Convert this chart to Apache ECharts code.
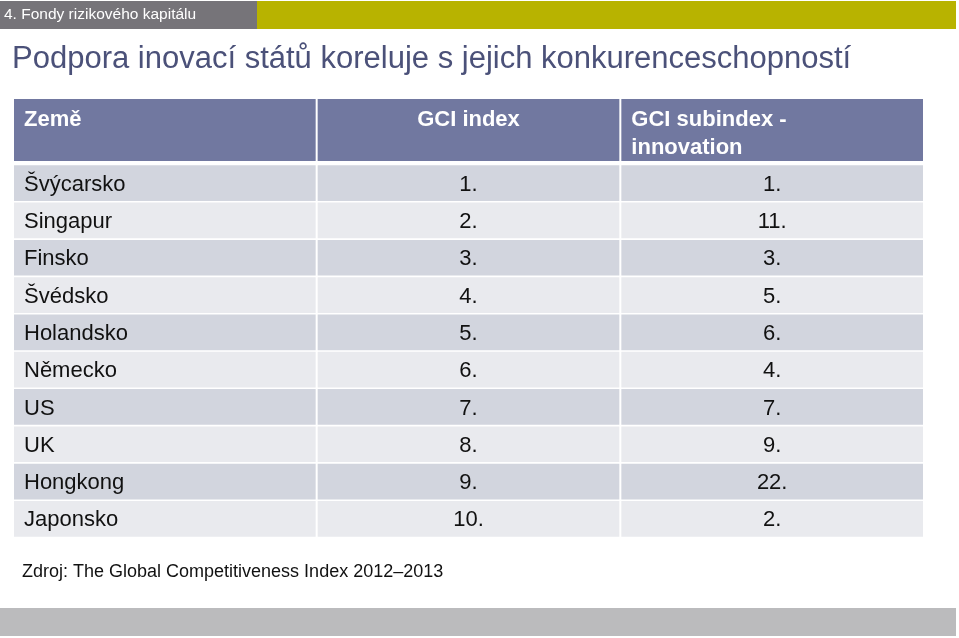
<!DOCTYPE html>
<html><head><meta charset="utf-8">
<script src="https://cdn.jsdelivr.net/npm/echarts@6/dist/echarts.min.js"></script>
<style>html,body{margin:0;padding:0;background:#fff}#c{width:959px;height:638px}</style>
</head><body><div id="c"></div>
<script>
const sectionLabel = '4. Fondy rizikového kapitálu';
const titleText = 'Podpora inovací států koreluje s jejich konkurenceschopností';
const columns = ['Země', 'GCI index', 'GCI subindex -\ninnovation'];
const countries = ['Švýcarsko','Singapur','Finsko','Švédsko','Holandsko','Německo','US','UK','Hongkong','Japonsko'];
const gciIndex = [1,2,3,4,5,6,7,8,9,10];
const gciInnovation = [1,11,3,5,6,4,7,9,22,2];
const sourceText = 'Zdroj: The Global Competitiveness Index 2012–2013';

const FONT = '"Liberation Sans", Arial, Helvetica, sans-serif';
const colIdx = [0, 1, 2];

const headerCells = columns.map((t, i) => ({ value: [i, 0], label: t }));
const bodyCells = [];
countries.forEach((c, r) => {
  bodyCells.push({ value: [0, r], label: c });
  bodyCells.push({ value: [1, r], label: gciIndex[r] + '.' });
  bodyCells.push({ value: [2, r], label: gciInnovation[r] + '.' });
});

function headerRender(params, api) {
  const col = api.value(0), row = api.value(1);
  const c = api.coord([col, row]);
  const s = api.size([1, 1]);
  const x = c[0] - s[0] / 2, y = c[1] - s[1] / 2;
  const cell = headerCells[params.dataIndex];
  let tx, align;
  if (col === 1) { tx = c[0]; align = 'center'; } else { tx = x + 11; align = 'left'; }
  return {
    type: 'group',
    children: [
      { type: 'rect', shape: { x: x + 1, y: y + 1, width: s[0] - 2, height: s[1] - 2 }, style: { fill: '#7178a0' } },
      { type: 'text', style: { text: cell.label, x: tx, y: y + 7.5, align: align, verticalAlign: 'top',
        fill: '#ffffff', fontFamily: FONT, fontWeight: 'bold', fontSize: 22, lineHeight: 28 } }
    ]
  };
}

function bodyRender(params, api) {
  const col = api.value(0), row = api.value(1);
  const c = api.coord([col, row]);
  const s = api.size([1, 1]);
  const x = c[0] - s[0] / 2, y = c[1] - s[1] / 2;
  const cell = bodyCells[params.dataIndex];
  const fill = row % 2 === 0 ? '#d2d5de' : '#e9eaee';
  let tx, align;
  if (col === 0) { tx = x + 11; align = 'left'; } else { tx = c[0]; align = 'center'; }
  return {
    type: 'group',
    children: [
      { type: 'rect', shape: { x: x + 1, y: y + 0.8, width: s[0] - 2, height: s[1] - 1.6 }, style: { fill: fill } },
      { type: 'text', style: { text: cell.label, x: tx, y: c[1] + 1.5, align: align, verticalAlign: 'middle',
        fill: '#111111', fontFamily: FONT, fontSize: 22 } }
    ]
  };
}

const chart = echarts.init(document.getElementById('c'), null, { renderer: 'canvas' });
chart.setOption({
  animation: false,
  backgroundColor: '#ffffff',
  grid: [
    { left: 13, width: 911, top: 98, height: 64 },
    { left: 13, width: 911, top: 164.5, height: 373 }
  ],
  xAxis: [
    { gridIndex: 0, type: 'category', data: colIdx, show: false },
    { gridIndex: 1, type: 'category', data: colIdx, show: false }
  ],
  yAxis: [
    { gridIndex: 0, type: 'category', data: ['header'], show: false },
    { gridIndex: 1, type: 'category', data: countries, inverse: true, show: false }
  ],
  series: [
    { type: 'custom', xAxisIndex: 0, yAxisIndex: 0, renderItem: headerRender, data: headerCells.map(d => d.value), silent: true },
    { type: 'custom', xAxisIndex: 1, yAxisIndex: 1, renderItem: bodyRender, data: bodyCells.map(d => d.value), silent: true }
  ],
  graphic: [
    { type: 'rect', shape: { x: 0, y: 1, width: 257, height: 28 }, style: { fill: '#767479' } },
    { type: 'rect', shape: { x: 257, y: 1, width: 699, height: 28 }, style: { fill: '#b8b300' } },
    { type: 'text', x: 4, y: 15, style: { text: sectionLabel, fill: '#ffffff', fontFamily: FONT, fontSize: 15.5, verticalAlign: 'middle' } },
    { type: 'text', x: 12, y: 59, style: { text: titleText, fill: '#4b5179', fontFamily: FONT, fontSize: 31, verticalAlign: 'middle' } },
    { type: 'text', x: 22, y: 572, style: { text: sourceText, fill: '#111111', fontFamily: FONT, fontSize: 18, verticalAlign: 'middle' } },
    { type: 'rect', shape: { x: 0, y: 608, width: 956, height: 28 }, style: { fill: '#bbbbbd' } }
  ]
});
</script>
</body></html>
